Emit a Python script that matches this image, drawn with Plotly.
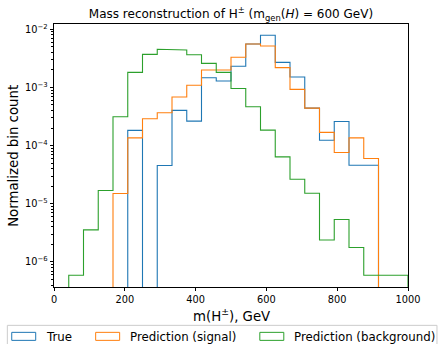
import plotly.graph_objects as go

# ---------------- data ----------------
n_bins = 24
x_min, x_max = 0, 1000
bin_edges = [x_min + i * (x_max - x_min) / n_bins for i in range(n_bins + 1)]

true_vals = [0, 0, 0, 0, 0, 1.83e-4, 0, 4.56e-5, 4.04e-4, 2.64e-4, 1.47e-3, 1.29e-3,
             2.31e-3, 5.58e-3, 7.88e-3, 2.70e-3, 1.51e-3, 4.41e-4, 1.24e-4, 2.60e-4,
             4.6e-5, 4.6e-5, 0, 0]
signal_vals = [0, 0, 0, 0, 1.5e-5, 1.36e-4, 2.9e-4, 3.67e-4, 6.84e-4, 1.09e-3, 2.0e-3, 2.0e-3,
               3.3e-3, 5.58e-3, 5.16e-3, 2.19e-3, 9.27e-4, 4.41e-4, 1.69e-4, 7.64e-5,
               1.36e-4, 6.0e-5, 0, 0]
background_vals = [0, 5.9e-7, 3.56e-6, 1.69e-5, 3.13e-4, 1.82e-3, 3.71e-3, 4.53e-3, 4.4e-3,
                   3.65e-3, 2.6e-3, 1.82e-3, 9.6e-4, 4.66e-4, 1.85e-4, 6.4e-5, 2.65e-5,
                   1.52e-5, 2.39e-6, 5.37e-6, 1.77e-6, 5.9e-7, 5.9e-7, 5.9e-7]

series_names = ["True", "Prediction (signal)", "Prediction (background)"]
series_vals = [true_vals, signal_vals, background_vals]
series_colors = ["#1f77b4", "#ff7f0e", "#2ca02c"]

x_ticks = [0, 200, 400, 600, 800, 1000]
y_tick_exps = [-6, -5, -4, -3, -2]
y_tick_vals = [10.0 ** e for e in y_tick_exps]
y_tick_text = ["10<sup>\u2212%d</sup>" % (-e) for e in y_tick_exps]
y_range_log = [-6.43, -1.909]

FONT = "DejaVu Sans"

# ---------------- layout geometry (pixels) ----------------
W, H = 440, 344
L, R, T, B = 54, 31.7, 24, 57.3
pw, ph = W - L - R, H - T - B


def px(x):
    return (x - L) / pw


def py(y):
    return (H - B - y) / ph


def step_xy(edges, vals, floor=1e-12):
    xs, ys = [edges[0]], [floor]
    for i, v in enumerate(vals):
        v = v if v > 0 else floor
        xs += [edges[i], edges[i + 1]]
        ys += [v, v]
    xs.append(edges[-1])
    ys.append(floor)
    return xs, ys


fig = go.Figure()
for name, vals, col in zip(series_names, series_vals, series_colors):
    xs, ys = step_xy(bin_edges, vals)
    fig.add_trace(go.Scatter(x=xs, y=ys, mode="lines", name=name,
                             line=dict(color=col, width=1.1), showlegend=False))

minor_vals = [k * 10 ** e for e in range(-8, -1) for k in range(2, 10)]

fig.update_layout(
    width=W, height=H,
    margin=dict(l=L, r=R, t=T, b=B, pad=0),
    paper_bgcolor="white", plot_bgcolor="white",
    font=dict(family=FONT, size=10, color="black"),
    title=dict(text="Mass reconstruction of H<sup>±</sup> (m<sub>gen</sub>(<i>H</i>) = 600 GeV)",
               x=0.5, xref="paper", y=(H - 14) / H, yref="container",
               xanchor="center", yanchor="middle", font=dict(size=12, family=FONT)),
    xaxis=dict(range=[x_min, x_max], tickvals=x_ticks, ticks="outside", ticklen=3.5,
               tickwidth=0.8, tickcolor="black", showline=True, linecolor="black",
               linewidth=0.8, mirror=True, showgrid=False, zeroline=False,
               tickfont=dict(size=9.8)),
    yaxis=dict(type="log", range=y_range_log, tickmode="array", tickvals=y_tick_vals,
               ticktext=y_tick_text, ticks="outside", ticklen=3.5, tickwidth=0.8,
               tickcolor="black", showline=True, linecolor="black", linewidth=0.8,
               mirror=True, showgrid=False, zeroline=False, tickfont=dict(size=9.8),
               minor=dict(tickmode="array", tickvals=minor_vals, ticks="outside",
                          ticklen=2, tickwidth=0.6, tickcolor="black", showgrid=False)),
    showlegend=False,
)

annotations = [
    dict(text="m(H<sup>±</sup>), GeV", xref="paper", yref="paper", x=0.5, y=py(315),
         xanchor="center", yanchor="middle", showarrow=False,
         font=dict(size=13.3, family=FONT, color="black")),
    dict(text="Normalized bin count", xref="paper", yref="paper", x=px(13.3), y=0.5,
         xanchor="center", yanchor="middle", textangle=-90, showarrow=False,
         font=dict(size=13.3, family=FONT, color="black")),
]

# ---------------- manual legend (matplotlib-style patches) ----------------
shapes = [dict(type="rect", xref="paper", yref="paper",
               x0=px(7.3), x1=px(437.3), y0=py(352), y1=py(325),
               line=dict(color="#cccccc", width=1), fillcolor="rgba(255,255,255,0.8)",
               layer="above")]
patch_x = [11.7, 95.7, 260.0]
text_x = [45.7, 130.0, 294.3]
for name, col, pxl, tx in zip(series_names, series_colors, patch_x, text_x):
    shapes.append(dict(type="rect", xref="paper", yref="paper",
                       x0=px(pxl), x1=px(pxl + 24), y0=py(340), y1=py(332),
                       line=dict(color=col, width=1), fillcolor="rgba(0,0,0,0)",
                       layer="above"))
    annotations.append(dict(text=name, xref="paper", yref="paper",
                            x=px(tx - 1), y=py(336.5), xanchor="left", yanchor="middle",
                            showarrow=False, font=dict(size=11.8, family=FONT, color="black"),
                            borderpad=0))
fig.update_layout(shapes=shapes, annotations=annotations)

fig.write_html("out.html")
